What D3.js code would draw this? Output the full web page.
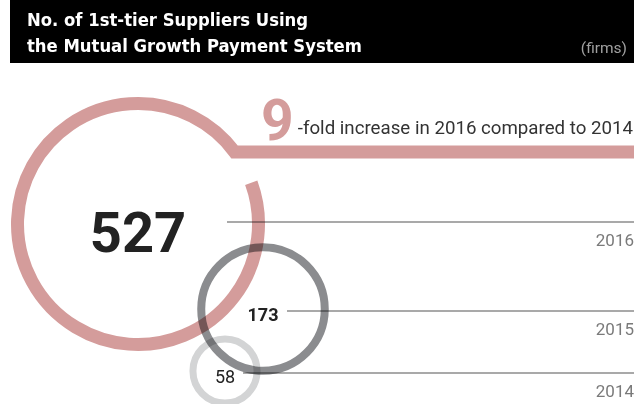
<!DOCTYPE html>
<html>
<head>
<meta charset="utf-8">
<script src="https://cdn.jsdelivr.net/npm/d3@7"></script>
<style>
  body { margin: 0; background: #fff; }
  svg { display: block; }
  .title { font-family: "Liberation Sans Narrow", "DejaVu Sans Condensed", Roboto, sans-serif; font-weight: bold; fill: #fff; font-size: 18.3px; }
  .unit { font-family: Roboto, sans-serif; fill: #a0a0a0; font-size: 15.5px; }
  .year { font-family: Roboto, sans-serif; fill: #7a7a7a; font-size: 17px; }
  .val { font-family: Roboto, sans-serif; fill: #222; }
  .note { font-family: Roboto, sans-serif; fill: #333; font-size: 18.7px; }
  .ring { mix-blend-mode: multiply; }
</style>
</head>
<body>
<script>
var width = 642;
var height = 404;

// data
var years = ["2016", "2015", "2014"];
var values = [527, 173, 58];
var ringColors = ["#d49c9b", "#8b8c8f", "#d3d4d5"];
var titleLines = ["No. of 1st-tier Suppliers Using", "the Mutual Growth Payment System"];
var unitLabel = "(firms)";
var foldValue = 9;
var foldText = "-fold increase in 2016 compared to 2014";

// layout scales
var rowY = d3.scaleOrdinal().domain(years).range([222, 311, 373]);
var ringX = d3.scaleOrdinal().domain(years).range([138, 263, 225]);
var lineStart = d3.scaleOrdinal().domain(years).range([227, 287, 243]);
var radius = d3.scalePow().exponent(0.6).domain([0, 527]).range([0, 120.5]);
var strokeW = d3.scaleOrdinal().domain(years).range([13, 8, 7]);
var valSize = d3.scaleOrdinal().domain(years).range([56, 18, 18]);
var valWeight = d3.scaleOrdinal().domain(years).range(["bold", "bold", "normal"]);

var data = years.map(function(y, i) {
  return { year: y, value: values[i], color: ringColors[i] };
});

var svg = d3.select("body").append("svg")
  .attr("width", width)
  .attr("height", height);

// header
svg.append("rect")
  .attr("x", 10).attr("y", 0)
  .attr("width", 624).attr("height", 63)
  .attr("fill", "#000");

svg.selectAll(".title")
  .data(titleLines)
  .enter().append("text")
  .attr("class", "title")
  .attr("x", 27)
  .attr("y", function(d, i) { return 26 + i * 26; })
  .text(function(d) { return d; });

svg.append("text")
  .attr("class", "unit")
  .attr("x", 627).attr("y", 53)
  .attr("text-anchor", "end")
  .text(unitLabel);

// year rules
var rows = svg.selectAll(".row")
  .data(data)
  .enter().append("g")
  .attr("class", "row");

rows.append("line")
  .attr("x1", function(d) { return lineStart(d.year); })
  .attr("x2", 634)
  .attr("y1", function(d) { return rowY(d.year); })
  .attr("y2", function(d) { return rowY(d.year); })
  .attr("stroke", "#555")
  .attr("stroke-width", 1.2);

rows.append("text")
  .attr("class", "year")
  .attr("x", 634)
  .attr("y", function(d) { return rowY(d.year) + 24; })
  .attr("text-anchor", "end")
  .text(function(d) { return d.year; });

// rings
var rings = svg.append("g");

// big one: open arc tied into the bar
var big = data[0];
var bx = ringX(big.year), by = rowY(big.year) + 2, br = radius(big.value);
var barY = 152;
var joinA = Math.acos((by - barY) / br);          // angle from top, clockwise
var startA = 70 * Math.PI / 180;
var p = d3.path();
p.moveTo(bx + br * Math.sin(startA), by - br * Math.cos(startA));
p.arc(bx, by, br, startA - Math.PI / 2, joinA + 2 * Math.PI - Math.PI / 2, false);
p.lineTo(634, barY);

rings.append("path")
  .attr("class", "ring")
  .attr("d", p.toString())
  .attr("fill", "none")
  .attr("stroke", big.color)
  .attr("stroke-width", strokeW(big.year))
  .attr("stroke-linejoin", "miter");

rings.selectAll("circle")
  .data(data.slice(1))
  .enter().append("circle")
  .attr("class", "ring")
  .attr("cx", function(d) { return ringX(d.year); })
  .attr("cy", function(d) { return rowY(d.year) - 2; })
  .attr("r", function(d) { return radius(d.value); })
  .attr("fill", "none")
  .attr("stroke", function(d) { return d.color; })
  .attr("stroke-width", function(d) { return strokeW(d.year); });

// values
svg.selectAll(".val")
  .data(data)
  .enter().append("text")
  .attr("class", "val")
  .attr("x", function(d) { return ringX(d.year); })
  .attr("y", function(d) { return rowY(d.year) + valSize(d.year) * 0.54; })
  .attr("text-anchor", "middle")
  .attr("font-size", function(d) { return valSize(d.year); })
  .attr("font-weight", function(d) { return valWeight(d.year); })
  .text(function(d) { return d3.format(",")(d.value); });

// fold note
var note = svg.append("text")
  .attr("class", "note")
  .attr("x", 633).attr("y", 134)
  .attr("text-anchor", "end")
  .text(foldText);
var noteW = note.node().getComputedTextLength();

svg.append("text")
  .attr("x", 633 - noteW - 4).attr("y", 140)
  .attr("text-anchor", "end")
  .attr("font-family", "Roboto, sans-serif")
  .attr("font-weight", "bold")
  .attr("font-size", 57)
  .attr("fill", ringColors[0])
  .text(foldValue);
</script>
</body>
</html>
